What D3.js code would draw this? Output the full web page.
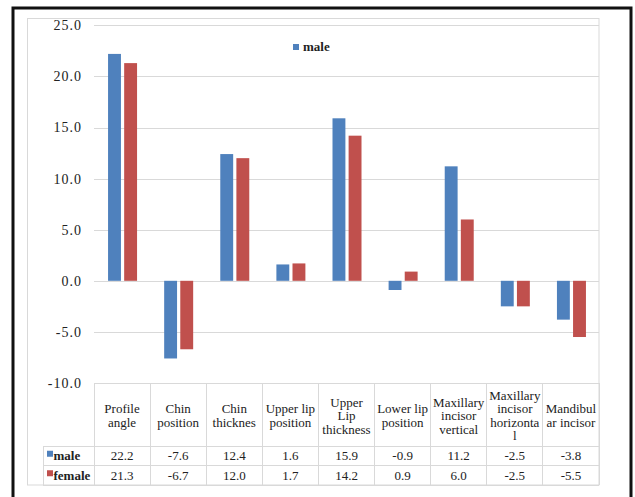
<!DOCTYPE html>
<html>
<head>
<meta charset="utf-8">
<script src="https://cdn.jsdelivr.net/npm/d3@7"></script>
<style>
  html, body { margin: 0; padding: 0; background: #fff; }
  svg { display: block; }
  text { font-family: "Liberation Serif", "Times New Roman", serif; fill: #222; }
</style>
</head>
<body>
<svg id="chart" width="635" height="497"></svg>
<script>
// Measurements per category (label lines separated by "|")
const categories = [
  "Profile|angle",
  "Chin|position",
  "Chin|thicknes",
  "Upper lip|position",
  "Upper|Lip|thickness",
  "Lower lip|position",
  "Maxillary|incisor|vertical",
  "Maxillary|incisor|horizonta|l",
  "Mandibul|ar incisor"
];
const seriesNames = ["male", "female"];
const maleValues   = [22.2, -7.6, 12.4, 1.6, 15.9, -0.9, 11.2, -2.5, -3.8];
const femaleValues = [21.3, -6.7, 12.0, 1.7, 14.2,  0.9,  6.0, -2.5, -5.5];
const yTicks = [-10, -5, 0, 5, 10, 15, 20, 25];

const colors = { male: "#4F81BD", female: "#C0504D" };
const gridColor = "#d9d9d9";

// one decimal, plain hyphen for negatives
const fmt = d3.formatLocale({ decimal: ".", thousands: ",", grouping: [3], currency: ["", ""], minus: "-" }).format(".1f");

const svg = d3.select("#chart");

// Frame
svg.append("rect")
  .attr("x", 13).attr("y", 8).attr("width", 618).attr("height", 500)
  .attr("fill", "none").attr("stroke", "#111").attr("stroke-width", 3);

svg.append("rect")
  .attr("x", 27.5).attr("y", 18.5).attr("width", 571.5).attr("height", 466.5)
  .attr("fill", "#fff").attr("stroke", gridColor).attr("stroke-width", 1);

const plotLeft = 94, plotRight = 599;
const y = d3.scaleLinear().domain([-10, 25]).range([383, 25.3]);
const x = d3.scaleBand().domain(categories).range([plotLeft, plotRight]).padding(0);
const xs = d3.scaleBand().domain(seriesNames).range([0, 29]).paddingInner(0.2);

// Gridlines and value axis
const yAxis = d3.axisLeft(y).tickValues(yTicks).tickSize(-(plotRight - plotLeft))
  .tickFormat(fmt).tickPadding(12);
const gAxis = svg.append("g").attr("transform", `translate(${plotLeft},0)`).call(yAxis);
gAxis.select(".domain").remove();
gAxis.selectAll(".tick line").attr("stroke", gridColor).attr("shape-rendering", "crispEdges");
gAxis.selectAll(".tick text")
  .style("font-family", "'Liberation Serif', serif")
  .style("font-size", "14px").style("letter-spacing", "1px")
  .attr("fill", "#222");

// Bars
const rows = categories.map((c, i) => ({ cat: c, male: maleValues[i], female: femaleValues[i] }));
const groups = svg.append("g").selectAll("g").data(rows).join("g")
  .attr("transform", d => `translate(${x(d.cat) + x.bandwidth() / 2 - 14},0)`);
groups.selectAll("rect")
  .data(d => seriesNames.map(s => ({ s, v: d[s] })))
  .join("rect")
  .attr("x", d => xs(d.s))
  .attr("width", xs.bandwidth())
  .attr("y", d => y(Math.max(0, d.v)))
  .attr("height", d => Math.abs(y(d.v) - y(0)))
  .attr("fill", d => colors[d.s]);

// Data table below the plot
const tableTop = y(-10), headBottom = 446, rowH = 19.5;
const tableLeft = 43;
const tg = svg.append("g").attr("stroke", gridColor).attr("shape-rendering", "crispEdges");
// vertical lines
categories.forEach(c => {
  tg.append("line").attr("x1", x(c)).attr("x2", x(c)).attr("y1", tableTop).attr("y2", headBottom + 2 * rowH);
});
tg.append("line").attr("x1", plotRight).attr("x2", plotRight).attr("y1", tableTop).attr("y2", headBottom + 2 * rowH);
tg.append("line").attr("x1", tableLeft).attr("x2", tableLeft).attr("y1", headBottom).attr("y2", headBottom + 2 * rowH);
// horizontal lines
[headBottom, headBottom + rowH, headBottom + 2 * rowH].forEach(yy => {
  tg.append("line").attr("x1", tableLeft).attr("x2", plotRight).attr("y1", yy).attr("y2", yy);
});

// Header labels
const lineH = 13.5;
categories.forEach(c => {
  const lines = c.split("|");
  const cx = x(c) + x.bandwidth() / 2;
  const cy = (tableTop + headBottom) / 2 + 1;
  const t = svg.append("text").attr("text-anchor", "middle").style("font-size", "13px");
  lines.forEach((ln, k) => {
    t.append("tspan").attr("x", cx)
      .attr("y", cy + (k - (lines.length - 1) / 2) * lineH + 4.5)
      .text(ln);
  });
});

// Value rows
const seriesValues = { male: maleValues, female: femaleValues };
seriesNames.forEach((s, r) => {
  const rowMid = headBottom + rowH * r + rowH / 2;
  svg.append("rect").attr("x", 47).attr("y", rowMid - 5).attr("width", 6).attr("height", 6).attr("fill", colors[s]);
  svg.append("text").attr("x", 53.5).attr("y", rowMid + 4.5)
    .style("font-size", "13px").style("font-weight", "bold").text(s);
  categories.forEach((c, i) => {
    svg.append("text").attr("x", x(c) + x.bandwidth() / 2).attr("y", rowMid + 4.5)
      .attr("text-anchor", "middle").style("font-size", "13px")
      .text(fmt(seriesValues[s][i]));
  });
});

// Legend
const legend = svg.append("g").attr("transform", "translate(293,44)");
legend.append("rect").attr("width", 6).attr("height", 6).attr("fill", colors.male);
legend.append("text").attr("x", 10).attr("y", 7).style("font-size", "13px").style("font-weight", "bold").text(seriesNames[0]);
</script>
</body>
</html>
